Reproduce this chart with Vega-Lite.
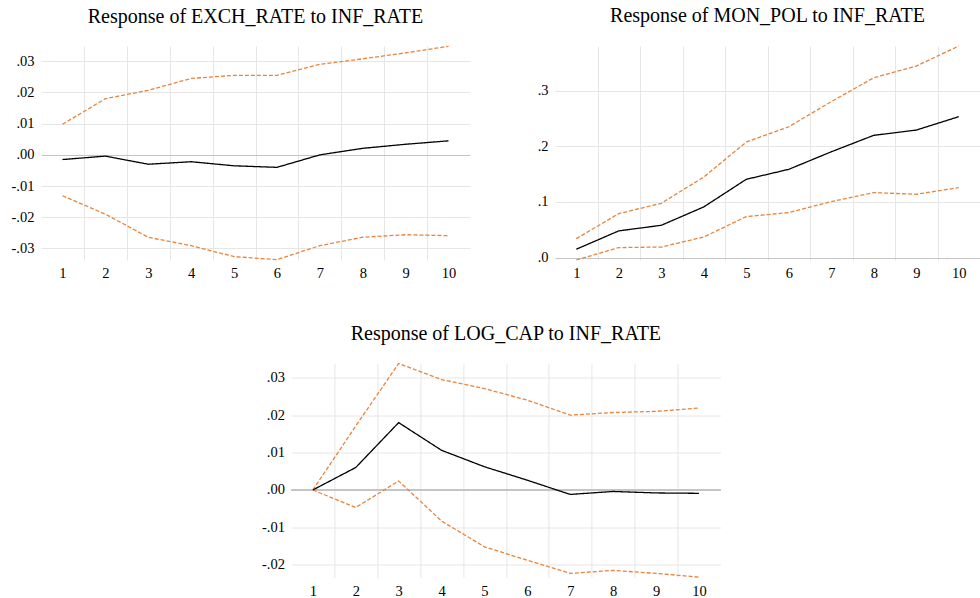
{
  "$schema": "https://vega.github.io/schema/vega-lite/v6.json",
  "background": "white",
  "padding": {"left": 0, "top": 6, "right": 0, "bottom": 0},
  "config": {
    "view": {"stroke": null},
    "font": "Liberation Serif",
    "title": {"font": "Liberation Serif", "fontSize": 20, "fontWeight": "normal", "color": "#000", "anchor": "middle", "frame": "group", "offset": 17},
    "axis": {"labelFont": "Liberation Serif", "labelFontSize": 14.5, "labelColor": "#000", "ticks": false, "domain": false, "title": null, "gridWidth": 1}
  },
  "datasets": {
    "irf": [
      {"panel": "EXCH_RATE", "step": 1, "response": -0.0015, "lower": -0.0131, "upper": 0.0098},
      {"panel": "EXCH_RATE", "step": 2, "response": -0.0004, "lower": -0.0190, "upper": 0.0180},
      {"panel": "EXCH_RATE", "step": 3, "response": -0.0030, "lower": -0.0264, "upper": 0.0207},
      {"panel": "EXCH_RATE", "step": 4, "response": -0.0022, "lower": -0.0291, "upper": 0.0245},
      {"panel": "EXCH_RATE", "step": 5, "response": -0.0035, "lower": -0.0326, "upper": 0.0255},
      {"panel": "EXCH_RATE", "step": 6, "response": -0.0040, "lower": -0.0336, "upper": 0.0255},
      {"panel": "EXCH_RATE", "step": 7, "response": 0.0000, "lower": -0.0291, "upper": 0.0290},
      {"panel": "EXCH_RATE", "step": 8, "response": 0.0021, "lower": -0.0264, "upper": 0.0308},
      {"panel": "EXCH_RATE", "step": 9, "response": 0.0034, "lower": -0.0256, "upper": 0.0327},
      {"panel": "EXCH_RATE", "step": 10, "response": 0.0045, "lower": -0.0259, "upper": 0.0348},
      {"panel": "MON_POL", "step": 1, "response": 0.015, "lower": -0.0043, "upper": 0.034},
      {"panel": "MON_POL", "step": 2, "response": 0.048, "lower": 0.018, "upper": 0.079},
      {"panel": "MON_POL", "step": 3, "response": 0.058, "lower": 0.019, "upper": 0.0975},
      {"panel": "MON_POL", "step": 4, "response": 0.091, "lower": 0.037, "upper": 0.1447},
      {"panel": "MON_POL", "step": 5, "response": 0.1406, "lower": 0.0736, "upper": 0.2075},
      {"panel": "MON_POL", "step": 6, "response": 0.1585, "lower": 0.0808, "upper": 0.235},
      {"panel": "MON_POL", "step": 7, "response": 0.190, "lower": 0.1005, "upper": 0.280},
      {"panel": "MON_POL", "step": 8, "response": 0.2196, "lower": 0.1167, "upper": 0.323},
      {"panel": "MON_POL", "step": 9, "response": 0.229, "lower": 0.1137, "upper": 0.344},
      {"panel": "MON_POL", "step": 10, "response": 0.253, "lower": 0.1257, "upper": 0.380},
      {"panel": "LOG_CAP", "step": 1, "response": 0.0, "lower": 0.0, "upper": 0.0},
      {"panel": "LOG_CAP", "step": 2, "response": 0.0060, "lower": -0.0047, "upper": 0.0171},
      {"panel": "LOG_CAP", "step": 3, "response": 0.0180, "lower": 0.0024, "upper": 0.0338},
      {"panel": "LOG_CAP", "step": 4, "response": 0.0106, "lower": -0.0083, "upper": 0.0295},
      {"panel": "LOG_CAP", "step": 5, "response": 0.0062, "lower": -0.0152, "upper": 0.0271},
      {"panel": "LOG_CAP", "step": 6, "response": 0.0026, "lower": -0.0188, "upper": 0.0240},
      {"panel": "LOG_CAP", "step": 7, "response": -0.0012, "lower": -0.0223, "upper": 0.0200},
      {"panel": "LOG_CAP", "step": 8, "response": -0.0004, "lower": -0.0215, "upper": 0.0207},
      {"panel": "LOG_CAP", "step": 9, "response": -0.0008, "lower": -0.0223, "upper": 0.0210},
      {"panel": "LOG_CAP", "step": 10, "response": -0.0009, "lower": -0.0233, "upper": 0.0219}
    ]
  },
  "vconcat": [
    {
      "hconcat": [
        {
          "title": "Response of EXCH_RATE to INF_RATE",
          "width": 429, "height": 214,
          "data": {"name": "irf"},
          "transform": [{"filter": "datum.panel === 'EXCH_RATE'"}, {"fold": ["lower", "upper", "response"], "as": ["series", "value"]}],
          "mark": {"type": "line", "strokeWidth": 1.3},
          "encoding": {
            "x": {"field": "step", "type": "quantitative", "scale": {"domain": [0.5, 10.5], "nice": false, "zero": false},
                  "axis": {"values": [1, 1.5, 2, 2.5, 3, 3.5, 4, 4.5, 5, 5.5, 6, 6.5, 7, 7.5, 8, 8.5, 9, 9.5, 10], "labelExpr": "datum.value % 1 === 0 ? format(datum.value, 'd') : ''", "labelOverlap": false, "labelFlush": false, "labelPadding": 6.5, "grid": true, "gridColor": "#e6e6e6", "gridOpacity": {"condition": {"test": "datum.value % 1 === 0", "value": 0}, "value": 1}}},
            "y": {"field": "value", "type": "quantitative", "scale": {"domain": [-0.0337, 0.0349], "nice": false, "zero": false},
                  "axis": {"values": [-0.03, -0.02, -0.01, 0, 0.01, 0.02, 0.03], "labelExpr": "(datum.value < 0 ? '-' : '') + replace(format(abs(datum.value), '.2f'), '0.', '.')", "labelPadding": 7, "minExtent": 40.5, "grid": true, "gridColor": {"condition": {"test": "datum.value === 0", "value": "#c4c4c4"}, "value": "#e6e6e6"}}},
            "detail": {"field": "series"},
            "color": {"field": "series", "type": "nominal", "scale": {"domain": ["lower", "upper", "response"], "range": ["#e8843c", "#e8843c", "#000000"]}, "legend": null},
            "strokeDash": {"field": "series", "type": "nominal", "scale": {"domain": ["lower", "upper", "response"], "range": [[4, 2], [4, 2], [1, 0]]}, "legend": null}
          }
        },
        {
          "title": "Response of MON_POL to INF_RATE",
          "width": 425, "height": 214,
          "data": {"name": "irf"},
          "transform": [{"filter": "datum.panel === 'MON_POL'"}, {"fold": ["lower", "upper", "response"], "as": ["series", "value"]}],
          "mark": {"type": "line", "strokeWidth": 1.3},
          "encoding": {
            "x": {"field": "step", "type": "quantitative", "scale": {"domain": [0.5, 10.5], "nice": false, "zero": false},
                  "axis": {"values": [1, 1.5, 2, 2.5, 3, 3.5, 4, 4.5, 5, 5.5, 6, 6.5, 7, 7.5, 8, 8.5, 9, 9.5, 10], "labelExpr": "datum.value % 1 === 0 ? format(datum.value, 'd') : ''", "labelOverlap": false, "labelFlush": false, "labelPadding": 6.5, "grid": true, "gridColor": "#e6e6e6", "gridOpacity": {"condition": {"test": "datum.value % 1 === 0", "value": 0}, "value": 1}}},
            "y": {"field": "value", "type": "quantitative", "scale": {"domain": [-0.0043, 0.38], "nice": false, "zero": false},
                  "axis": {"values": [0, 0.1, 0.2, 0.3], "labelExpr": "(datum.value < 0 ? '-' : '') + replace(format(abs(datum.value), '.1f'), '0.', '.')", "labelPadding": 7, "grid": true, "gridColor": {"condition": {"test": "datum.value === 0", "value": "#c4c4c4"}, "value": "#e6e6e6"}}},
            "detail": {"field": "series"},
            "color": {"field": "series", "type": "nominal", "scale": {"domain": ["lower", "upper", "response"], "range": ["#e8843c", "#e8843c", "#000000"]}, "legend": null},
            "strokeDash": {"field": "series", "type": "nominal", "scale": {"domain": ["lower", "upper", "response"], "range": [[4, 2], [4, 2], [1, 0]]}, "legend": null}
          }
        }
      ],
      "spacing": 67,
      "resolve": {"scale": {"x": "independent", "y": "independent", "color": "independent", "strokeDash": "independent"}}
    },
    {
      "title": "Response of LOG_CAP to INF_RATE",
      "width": 429, "height": 214,
      "data": {"name": "irf"},
      "transform": [{"filter": "datum.panel === 'LOG_CAP'"}],
      "layer": [
        {
          "mark": {"type": "rule", "color": "#c4c4c4", "strokeWidth": 1},
          "encoding": {
            "y": {"datum": 0, "type": "quantitative", "axis": {"orient": "right", "labels": false, "grid": false, "ticks": false, "domain": false, "minExtent": 9.2, "maxExtent": 9.2}}
          }
        },
        {
          "transform": [{"fold": ["lower", "upper", "response"], "as": ["series", "value"]}],
          "mark": {"type": "line", "strokeWidth": 1.3},
          "encoding": {
            "x": {"field": "step", "type": "quantitative", "scale": {"domain": [0.5, 10.5], "nice": false, "zero": false},
                  "axis": {"values": [1, 1.5, 2, 2.5, 3, 3.5, 4, 4.5, 5, 5.5, 6, 6.5, 7, 7.5, 8, 8.5, 9, 9.5, 10], "labelExpr": "datum.value % 1 === 0 ? format(datum.value, 'd') : ''", "labelOverlap": false, "labelFlush": false, "labelPadding": 6.5, "grid": true, "gridColor": "#e6e6e6", "gridOpacity": {"condition": {"test": "datum.value % 1 === 0", "value": 0}, "value": 1}}},
            "y": {"field": "value", "type": "quantitative", "scale": {"domain": [-0.0234, 0.0338], "nice": false, "zero": false},
                  "axis": {"orient": "left", "values": [-0.02, -0.01, 0, 0.01, 0.02, 0.03], "labelExpr": "(datum.value < 0 ? '-' : '') + replace(format(abs(datum.value), '.2f'), '0.', '.')", "labelPadding": 7, "grid": true, "gridColor": {"condition": {"test": "datum.value === 0", "value": "#c4c4c4"}, "value": "#e6e6e6"}}},
            "detail": {"field": "series"},
            "color": {"field": "series", "type": "nominal", "scale": {"domain": ["lower", "upper", "response"], "range": ["#e8843c", "#e8843c", "#000000"]}, "legend": null},
            "strokeDash": {"field": "series", "type": "nominal", "scale": {"domain": ["lower", "upper", "response"], "range": [[4, 2], [4, 2], [1, 0]]}, "legend": null}
          }
        }
      ],
      "resolve": {"axis": {"y": "independent"}}
    }
  ],
  "spacing": 43.5,
  "center": true,
  "resolve": {"scale": {"x": "independent", "y": "independent", "color": "independent", "strokeDash": "independent"}}
}
